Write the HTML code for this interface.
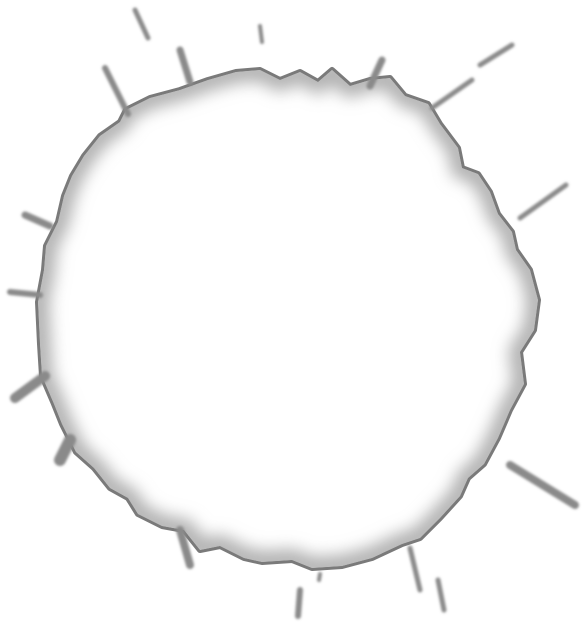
<!DOCTYPE html>
<html><head><meta charset="utf-8"><style>
html,body{margin:0;padding:0;background:#fff;width:586px;height:628px;overflow:hidden}
</style></head><body>
<svg width="586" height="628" viewBox="0 0 586 628" xmlns="http://www.w3.org/2000/svg">
<defs>
<filter id="blur8" x="-20%" y="-20%" width="140%" height="140%"><feGaussianBlur stdDeviation="8"/></filter>
<filter id="blur2"><feGaussianBlur stdDeviation="1.2"/></filter>
<clipPath id="clipSplash"><path id="sp" d="M260,70 L280,80 300,72 318,82 332,70 350,86 370,80 390,78 405,96 428,104 440,124 458,148 462,168 478,174 490,192 498,214 512,232 516,250 530,270 538,300 534,330 520,352 524,384 510,410 498,438 484,464 468,478 460,496 440,518 420,538 402,544 372,558 342,566 312,568 292,560 262,562 244,558 220,546 200,550 184,530 162,526 138,514 128,498 110,488 94,468 76,452 62,424 54,404 42,376 40,344 38,302 44,270 46,246 58,222 64,196 72,176 84,156 100,136 120,122 126,110 150,98 180,90 208,80 236,72 Z"/></clipPath>
</defs>
<g>
<use href="#sp" fill="#9a9a9a" stroke="#7a7a7a" stroke-width="6" stroke-linejoin="round"/>
<g clip-path="url(#clipSplash)">
<use href="#sp" fill="#fff"/>
<use href="#sp" fill="none" stroke="#b0b0b0" stroke-width="22" filter="url(#blur8)"/>
</g>
</g>
<g stroke="#8a8a8a" stroke-linecap="round" fill="none" filter="url(#blur2)">
<line x1="135" y1="10" x2="148" y2="38" stroke-width="5"/>
<line x1="260" y1="26" x2="262" y2="42" stroke-width="4"/>
<line x1="105" y1="68" x2="128" y2="114" stroke-width="6"/>
<line x1="180" y1="50" x2="190" y2="82" stroke-width="7"/>
<line x1="382" y1="60" x2="370" y2="86" stroke-width="7"/>
<line x1="512" y1="45" x2="480" y2="65" stroke-width="5"/>
<line x1="472" y1="80" x2="432" y2="108" stroke-width="5"/>
<line x1="566" y1="185" x2="520" y2="218" stroke-width="5"/>
<line x1="10" y1="292" x2="40" y2="295" stroke-width="6"/>
<line x1="15" y1="398" x2="45" y2="376" stroke-width="10"/>
<line x1="25" y1="215" x2="50" y2="226" stroke-width="7"/>
<line x1="510" y1="465" x2="575" y2="505" stroke-width="8"/>
<line x1="410" y1="548" x2="420" y2="590" stroke-width="5"/>
<line x1="438" y1="580" x2="444" y2="610" stroke-width="5"/>
<line x1="300" y1="590" x2="298" y2="616" stroke-width="6"/>
<line x1="320" y1="574" x2="319" y2="580" stroke-width="4"/>
<line x1="180" y1="530" x2="190" y2="565" stroke-width="8"/>
<line x1="70" y1="440" x2="60" y2="460" stroke-width="12"/>
</g>
</svg>
</body></html>
